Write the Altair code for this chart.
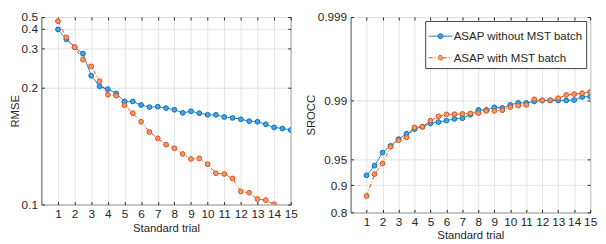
import math
import altair as alt
import pandas as pd

series_names = ["ASAP without MST batch", "ASAP with MST batch"]
trials = [1, 1.5, 2, 2.5, 3, 3.5, 4, 4.5, 5, 5.5, 6, 6.5, 7, 7.5, 8, 8.5,
          9, 9.5, 10, 10.5, 11, 11.5, 12, 12.5, 13, 13.5, 14, 14.5, 15]

rmse_without = [0.395, 0.339, 0.304, 0.281, 0.222, 0.2016, 0.197, 0.190, 0.1785,
                0.1785, 0.1738, 0.1711, 0.1717, 0.1699, 0.1679, 0.1642, 0.1661,
                0.1639, 0.1620, 0.1620, 0.1596, 0.1586, 0.1572, 0.1552, 0.1546,
                0.1520, 0.1490, 0.1480, 0.1466]
rmse_with = [0.459, 0.348, 0.304, 0.2617, 0.2435, 0.2113, 0.1881, 0.1867, 0.1735,
             0.1639, 0.1546, 0.1448, 0.1393, 0.1343, 0.1316, 0.1275, 0.1241,
             0.1245, 0.1208, 0.1154, 0.1150, 0.1125, 0.1059, 0.1053, 0.1024,
             0.1019, 0.1001]

srocc_without = [0.9233, 0.9407, 0.9584, 0.9653, 0.9711, 0.9751, 0.9780, 0.9794,
                 0.9812, 0.9819, 0.9826, 0.9834, 0.9837, 0.9852, 0.9870, 0.9870,
                 0.9879, 0.9877, 0.9887, 0.9893, 0.9893, 0.9897, 0.9900, 0.9900,
                 0.9900, 0.9900, 0.9901, 0.9909, 0.9910]
srocc_with = [0.868, 0.9258, 0.9442, 0.9645, 0.9703, 0.9725, 0.9790, 0.9794,
              0.9826, 0.9845, 0.9853, 0.9854, 0.9855, 0.9857, 0.9858, 0.9867,
              0.9867, 0.9869, 0.9880, 0.9885, 0.9887, 0.9903, 0.9900, 0.9901,
              0.9906, 0.9914, 0.9916, 0.9918, 0.9921]

x_ticks = list(range(1, 16))
rmse_ticks = [0.1, 0.2, 0.3, 0.4, 0.5]
srocc_ticks = [0.8, 0.9, 0.95, 0.99, 0.999]

LINE_COLORS = ["#0072BD", "#D95319"]
FILL_COLORS = ["#4DA0DE", "#F0976B"]
DASHES = [[1, 0], [4, 2, 1, 2]]
FONT = "Liberation Sans"
TXT = "#262626"
GRID = "#e3e3e3"
FS = 11.5      # axis titles
LFS = 12       # tick labels
GFS = 11.7     # legend labels


def long_df(a, b):
    rows = []
    for t, v in zip(trials, a):
        rows.append({"trial": t, "value": v, "series": series_names[0]})
    for t, v in zip(trials, b):
        rows.append({"trial": t, "value": v, "series": series_names[1]})
    return pd.DataFrame(rows)


def atanh(v):
    return 0.5 * math.log((1 + v) / (1 - v))


legend_path = ("M-1,0L-0.21,0M0.21,0L1,0M0.21,0A0.21,0.21,0,1,1,-0.21,0"
               "A0.21,0.21,0,1,1,0.21,0Z")

right_legend = alt.Legend(
    title=None, orient="top-right", offset=4, symbolType=legend_path,
    symbolSize=576, symbolStrokeWidth=1, labelFont=FONT, labelFontSize=GFS,
    labelColor=TXT, labelOffset=1, strokeColor="#404040", fillColor="white",
    padding=3, rowPadding=2, labelLimit=300,
)


def panel(df, y_field, y_scale, y_title, y_values, width, height, legend,
          label_expr=None, label_format=None, calc=None):
    x_scale = alt.Scale(domain=[0, 15], nice=False, zero=False)
    stroke_scale = alt.Scale(domain=series_names, range=LINE_COLORS)
    fill_scale = alt.Scale(domain=series_names, range=FILL_COLORS)
    dash_scale = alt.Scale(domain=series_names, range=DASHES)

    x_axis_main = alt.Axis(values=x_ticks, title="Standard trial", grid=True,
                           gridColor=GRID, domain=False, tickSize=3, offset=-3,
                           tickColor=TXT, labelPadding=4, titlePadding=3,
                           labelOverlap=False, labelFlush=False, labelFont=FONT,
                           labelFontSize=LFS, labelColor=TXT,
                           titleFont=FONT, titleFontSize=FS, titleColor=TXT,
                           titleFontWeight="normal")
    y_kw = dict(values=y_values, title=y_title, grid=True, gridColor=GRID,
                domain=False, tickSize=3, offset=-3, tickColor=TXT,
                labelPadding=4, titlePadding=1, labelOverlap=False,
                labelFlush=False, labelFont=FONT, labelFontSize=LFS,
                labelColor=TXT, titleFont=FONT, titleFontSize=FS,
                titleColor=TXT, titleFontWeight="normal")
    if label_expr:
        y_kw["labelExpr"] = label_expr
    if label_format:
        y_kw["format"] = label_format
    y_axis_main = alt.Axis(**y_kw)

    x_axis_sec = alt.Axis(orient="top", values=x_ticks, labels=False, title=None,
                          grid=False, domain=False, tickSize=3, offset=-3,
                          tickColor=TXT)
    y_axis_sec = alt.Axis(orient="right", values=y_values, labels=False,
                          title=None, grid=False, domain=False, tickSize=3,
                          offset=-3, tickColor=TXT)

    base = alt.Chart(df)
    if calc:
        base = base.transform_calculate(**calc)

    line = base.mark_line(strokeWidth=1, clip=True).encode(
        x=alt.X("trial:Q", scale=x_scale, axis=x_axis_main),
        y=alt.Y(y_field, scale=y_scale, axis=y_axis_main),
        stroke=alt.Stroke("series:N", scale=stroke_scale, legend=legend),
        strokeDash=alt.StrokeDash("series:N", scale=dash_scale, legend=legend),
    )
    pts = base.mark_circle(size=24, strokeWidth=1, opacity=1, clip=True).encode(
        x=alt.X("trial:Q", scale=x_scale, axis=x_axis_sec),
        y=alt.Y(y_field, scale=y_scale, axis=y_axis_sec),
        fill=alt.Fill("series:N", scale=fill_scale, legend=legend),
        stroke=alt.Stroke("series:N", scale=stroke_scale, legend=legend),
    )
    return alt.layer(line, pts).resolve_axis(
        x="independent", y="independent").properties(width=width, height=height)


df_rmse = long_df(rmse_without, rmse_with)
df_srocc = long_df(srocc_without, srocc_with)

left = panel(
    df_rmse, "value:Q",
    alt.Scale(type="pow", exponent=-1, domain=[0.1, 0.5], nice=False, zero=False),
    "RMSE", rmse_ticks, 254, 191, None, label_format=".1f",
)

srocc_tick_pos = [atanh(v) for v in srocc_ticks]
right = panel(
    df_srocc, "z:Q",
    alt.Scale(domain=[atanh(0.8), atanh(0.999)], nice=False, zero=False),
    "SROCC", srocc_tick_pos, 244, 199, right_legend,
    label_expr="format((exp(2*datum.value)-1)/(exp(2*datum.value)+1), '.3~f')",
    calc={"z": "0.5*log((1+datum.value)/(1-datum.value))"},
)

chart = alt.hconcat(left, right, spacing=6).resolve_scale(
    stroke="independent", fill="independent", strokeDash="independent",
    x="independent", y="independent",
).resolve_legend(
    stroke="independent", fill="independent", strokeDash="independent"
).properties(
    padding=0, background="white"
).configure_view(stroke="#4d4d4d", strokeWidth=1)

chart.save("out.html", embed_options={"renderer": "svg", "actions": False})
